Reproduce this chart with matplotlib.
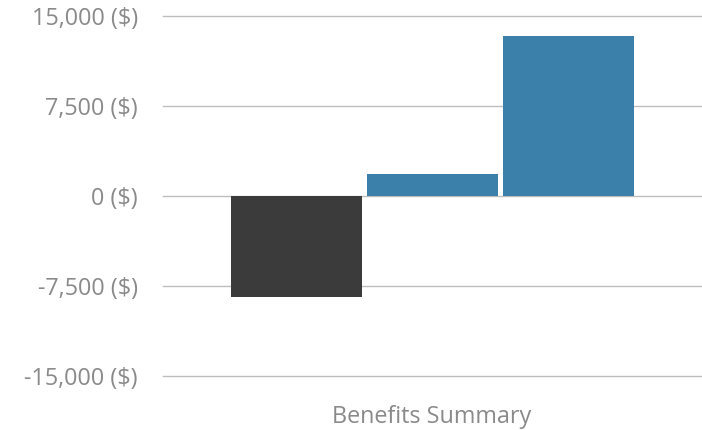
import matplotlib as mpl
mpl.use("Agg")
import matplotlib.pyplot as plt
from matplotlib.ticker import FuncFormatter

# data
category = "Benefits Summary"
values = [-8400, 1800, 13300]
colors = ["#3b3b3b", "#3a80ab", "#3a80ab"]
yticks = [-15000, -7500, 0, 7500, 15000]

plt.rcParams["font.family"] = ["Open Sans", "DejaVu Sans"]

W, H = 702, 430
fig = plt.figure(figsize=(W / 100, H / 100), dpi=100)
ax = fig.add_axes([163 / W, (H - 376) / H, (701 - 163) / W, 360 / H])

bar_w = 131 / 538
step = 136 / 538
for k, (v, c) in enumerate(zip(values, colors)):
    ax.bar((k - 1) * step, v, width=bar_w, color=c, zorder=3)

ax.set_xlim(-0.5, 0.5)
ax.set_ylim(-15000, 15000)
ax.set_yticks(yticks)
ax.yaxis.set_major_formatter(FuncFormatter(lambda v, p: f"{v:,.0f} ($)"))
ax.set_xticks([0])
ax.set_xticklabels([category])
ax.grid(axis="y", color="#bdbdbd", linewidth=1.0, zorder=0)
for gl in ax.get_ygridlines():
    gl.set_clip_on(False)
for s in ax.spines.values():
    s.set_visible(False)
ax.tick_params(length=0, colors="#8a8a8a", labelsize=16.8)
ax.tick_params(axis="y", pad=18)
ax.tick_params(axis="x", pad=21)

fig.savefig("out.png", dpi=100)
